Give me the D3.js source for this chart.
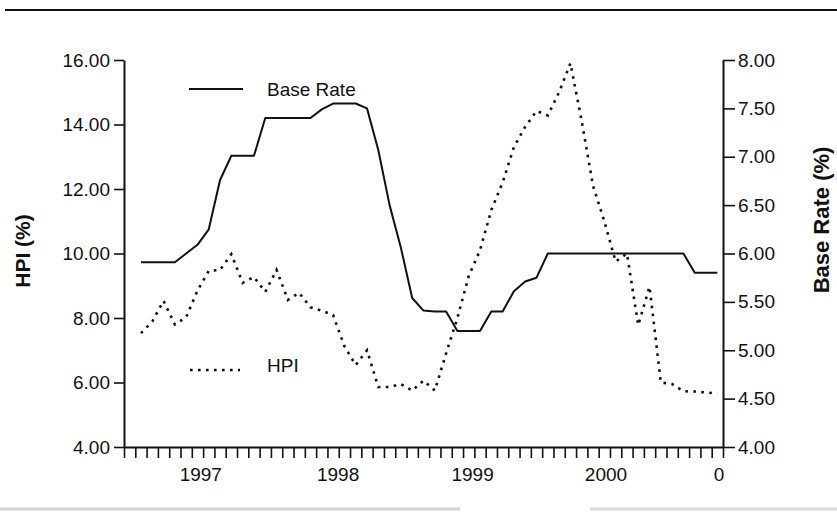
<!DOCTYPE html>
<html>
<head>
<meta charset="utf-8">
<script src="https://cdn.jsdelivr.net/npm/d3@7"></script>
<style>
  html, body { margin: 0; padding: 0; background: #fff; }
  svg { display: block; }
  text { font-family: "Liberation Sans", Arial, Helvetica, sans-serif; fill: #111; }
</style>
</head>
<body>
<svg id="chart" width="837" height="512"></svg>
<script>
// ---- data (monthly observations, index = month position on the x axis) ----
const monthIndex = [1,2,3,4,5,6,7,8,9,10,11,12,13,14,15,16,17,18,19,20,21,22,23,24,25,26,
                    27,28,29,30,31,32,33,34,35,36,37,38,39,40,41,42,43,44,45,46,47,48,49,50,51,52];
const baseRate = [5.91,5.91,5.91,5.91,6.00,6.09,6.25,6.76,7.01,7.01,7.01,7.40,7.40,7.40,7.40,7.40,
                  7.49,7.55,7.55,7.55,7.50,7.07,6.50,6.06,5.54,5.41,5.40,5.40,5.20,5.20,5.20,5.40,
                  5.40,5.61,5.71,5.75,6.00,6.00,6.00,6.00,6.00,6.00,6.00,6.00,6.00,6.00,6.00,6.00,
                  6.00,5.80,5.80,5.80];
const hpi = [7.53,7.89,8.53,7.80,8.02,8.85,9.46,9.49,9.98,9.09,9.27,8.81,9.49,8.56,8.78,8.33,
             8.23,8.09,7.13,6.54,7.00,5.86,5.86,5.95,5.75,6.06,5.75,6.90,8.00,9.30,10.10,11.35,
             12.20,13.30,13.93,14.42,14.28,15.00,15.90,14.10,12.10,11.00,9.75,10.00,7.78,8.97,6.00,5.95,
             5.73,5.72,5.69,5.66];
const xTickMonths = [0,1,2,3,4,5,6,7,8,9,10,11,12,13,14,15,16,17,18,19,20,21,22,23,24,25,26,
                     27,28,29,30,31,32,33,34,35,36,37,38,39,40,41,42,43,44,45,46,47,48,49,50,51,52,53];
const xLabelMonths = [6.75, 18.9, 30.8, 42.6, 52.6];
const xLabels = ["1997", "1998", "1999", "2000", "0"];
const leftTicks = [4, 6, 8, 10, 12, 14, 16];
const rightTicks = [4, 4.5, 5, 5.5, 6, 6.5, 7, 7.5, 8];

// ---- layout ----
const svg = d3.select("#chart");
const L = 124, R = 723, T = 60, B = 447;

const x = d3.scaleLinear().domain([0, 53]).range([L, R]);
const yL = d3.scaleLinear().domain([4, 16]).range([B, T]);
const yR = d3.scaleLinear().domain([4, 8]).range([B, T]);

// top rule and faint bottom rules (scan edges)
svg.append("line").attr("x1", 5).attr("x2", 837).attr("y1", 10).attr("y2", 10)
  .attr("stroke", "#111").attr("stroke-width", 2);
svg.append("line").attr("x1", 0).attr("x2", 460).attr("y1", 509).attr("y2", 509)
  .attr("stroke", "#d4d4d4").attr("stroke-width", 3);
svg.append("line").attr("x1", 590).attr("x2", 837).attr("y1", 509).attr("y2", 509)
  .attr("stroke", "#dcdcdc").attr("stroke-width", 3);

// x axis: monthly tick marks
const gx = svg.append("g").attr("transform", `translate(0,${B})`)
  .call(d3.axisBottom(x).tickValues(xTickMonths).tickSize(11).tickSizeOuter(0).tickFormat(""));
// x axis: year labels
const gxl = svg.append("g").attr("transform", `translate(0,${B})`)
  .call(d3.axisBottom(x).tickValues(xLabelMonths).tickSize(0).tickPadding(21)
    .tickFormat((d, i) => xLabels[i]));
gxl.select("path.domain").remove();

// left axis
const gl = svg.append("g").attr("transform", `translate(${L},0)`)
  .call(d3.axisLeft(yL).tickValues(leftTicks).tickFormat(d3.format(".2f")).tickSize(10).tickSizeOuter(0).tickPadding(4));
// right axis
const gr = svg.append("g").attr("transform", `translate(${R},0)`)
  .call(d3.axisRight(yR).tickValues(rightTicks).tickFormat(d3.format(".2f")).tickSize(12).tickSizeOuter(0).tickPadding(3));

[gx, gxl, gl, gr].forEach(g => {
  g.selectAll("path.domain").attr("stroke", "#111").attr("stroke-width", 2);
  g.selectAll(".tick line").attr("stroke", "#111").attr("stroke-width", 1.6);
  g.selectAll(".tick text").attr("font-size", 19).attr("fill", "#111")
    .style("font-family", '"Liberation Sans", Arial, sans-serif');
});

// axis titles
svg.append("text").attr("transform", `translate(30,251) rotate(-90)`)
  .attr("text-anchor", "middle").attr("font-size", 21).attr("font-weight", "bold").text("HPI (%)");
svg.append("text").attr("transform", `translate(829,220) rotate(-90)`)
  .attr("text-anchor", "middle").attr("font-size", 22).attr("font-weight", "bold").text("Base Rate (%)");

// lines
const lineBase = d3.line().x((d, i) => x(monthIndex[i] + 0.5)).y(d => yR(d));
const lineHpi = d3.line().x((d, i) => x(monthIndex[i] + 0.5)).y(d => yL(d));

svg.append("path").datum(hpi).attr("d", lineHpi).attr("fill", "none")
  .attr("stroke", "#111").attr("stroke-width", 2.6).attr("stroke-dasharray", "2.6,5.4");
svg.append("path").datum(baseRate).attr("d", lineBase).attr("fill", "none")
  .attr("stroke", "#111").attr("stroke-width", 2).attr("stroke-linejoin", "round");

// legend
svg.append("line").attr("x1", 189).attr("x2", 243).attr("y1", 89).attr("y2", 89)
  .attr("stroke", "#111").attr("stroke-width", 2);
svg.append("text").attr("x", 267).attr("y", 95.5).attr("font-size", 19).text("Base Rate");
svg.append("line").attr("x1", 190).attr("x2", 240).attr("y1", 370).attr("y2", 370)
  .attr("stroke", "#111").attr("stroke-width", 2.6).attr("stroke-dasharray", "2.6,5.4");
svg.append("text").attr("x", 267).attr("y", 372).attr("font-size", 19).text("HPI");
</script>
</body>
</html>
